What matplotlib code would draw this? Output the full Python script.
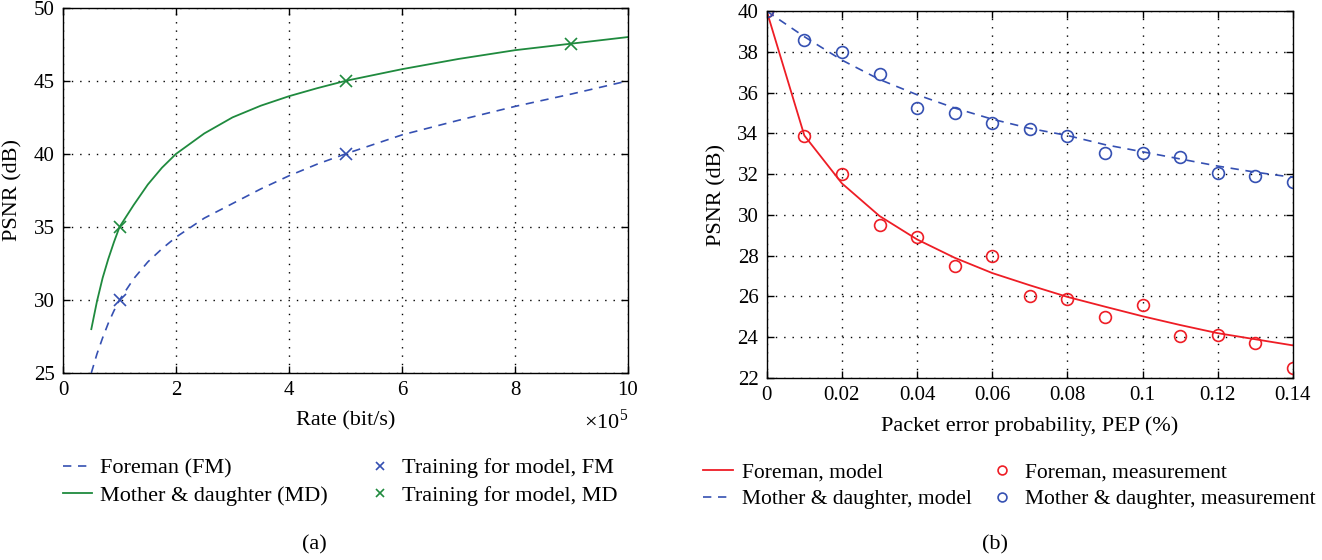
import matplotlib
matplotlib.use("Agg")
import matplotlib.pyplot as plt

plt.rcParams['font.family'] = ['Liberation Serif', 'DejaVu Serif']
plt.rcParams['mathtext.fontset'] = 'custom'
plt.rcParams['mathtext.rm'] = 'Liberation Serif'
plt.rcParams['font.size'] = 14

BLUE = '#3550b2'
GREEN = '#1f8a3e'
RED = '#ee1d25'

# (a) rate vs PSNR, rate in units of 1e5 bit/s
rate = [0.5, 0.6, 0.7, 0.8, 0.9, 1.0, 1.25, 1.5, 1.75, 2.0, 2.5, 3.0, 3.5,
        4.0, 4.5, 5.0, 6.0, 7.0, 8.0, 9.0, 10.0]
psnr_fm = [25.0, 26.3, 27.4, 28.4, 29.25, 30.0, 31.45, 32.6, 33.5, 34.3, 35.6,
           36.6, 37.6, 38.5, 39.3, 40.0, 41.3, 42.3, 43.25, 44.1, 45.0]
psnr_md = [28.0, 29.9, 31.5, 32.8, 33.95, 35.0, 36.5, 37.9, 39.05, 40.0, 41.4,
           42.5, 43.3, 43.95, 44.5, 45.0, 45.8, 46.5, 47.1, 47.55, 48.0]
train_rate_fm = [1.0, 5.0]
train_psnr_fm = [30.0, 40.0]
train_rate_md = [1.0, 5.0, 9.0]
train_psnr_md = [35.0, 45.0, 47.5]

# (b) packet error probability vs PSNR
pep = [0.0, 0.01, 0.02, 0.03, 0.04, 0.05, 0.06, 0.07, 0.08, 0.09, 0.10,
       0.11, 0.12, 0.13, 0.14]
fm_model = [40.0, 33.9, 31.55, 29.95, 28.8, 27.9, 27.15, 26.55, 25.98, 25.5,
            25.03, 24.6, 24.2, 23.9, 23.6]
fm_meas = [40.0, 33.9, 32.0, 29.5, 28.9, 27.5, 28.0, 26.0, 25.9, 25.0, 25.6,
           24.05, 24.1, 23.7, 22.5]
md_model = [40.0, 38.75, 37.6, 36.65, 35.9, 35.25, 34.7, 34.25, 33.9, 33.45,
            33.1, 32.75, 32.4, 32.1, 31.85]
md_meas = [40.0, 38.6, 38.0, 36.9, 35.25, 35.0, 34.5, 34.2, 33.9, 33.05,
           33.05, 32.85, 32.05, 31.9, 31.6]


def matlab_style(ax):
    ax.grid(True, color='black', linestyle=(0, (1, 5)), linewidth=1.0)
    ax.tick_params(direction='in', top=True, right=True, length=5, width=1,
                   labelsize=15, pad=6)
    for s in ax.spines.values():
        s.set_linewidth(1.0)


fig = plt.figure(figsize=(13.22, 5.6), dpi=100)
ax1 = fig.add_axes([0.0477, 0.334, 0.4273, 0.652])
ax2 = fig.add_axes([0.580, 0.325, 0.398, 0.655])

# left panel
ax1.plot(rate, psnr_fm, '--', color=BLUE, lw=1.2, dashes=(5, 4), label='Foreman (FM)')
ax1.plot(rate, psnr_md, '-', color=GREEN, lw=1.3, label='Mother & daughter (MD)')
ax1.plot(train_rate_fm, train_psnr_fm, 'x', color=BLUE, ms=8, mew=1.2,
         label='Training for model, FM')
ax1.plot(train_rate_md, train_psnr_md, 'x', color=GREEN, ms=8, mew=1.2,
         label='Training for model, MD')
ax1.set_xlim(0, 10)
ax1.set_ylim(25, 50)
ax1.set_xticks(range(0, 11, 2))
ax1.set_yticks(range(25, 51, 5))
ax1.set_xlabel('Rate (bit/s)', fontsize=16, labelpad=8)
ax1.set_ylabel('PSNR (dB)', fontsize=16, labelpad=8)
ax1.text(1.0, -0.10, r'×10$^5$', transform=ax1.transAxes, ha='right',
         va='top', fontsize=16)
matlab_style(ax1)
ax1.legend(loc='upper left', bbox_to_anchor=(0.0325, 0.218),
           bbox_transform=fig.transFigure, ncol=2, frameon=False,
           fontsize=16, handlelength=1.3, columnspacing=1.7,
           labelspacing=0.3, handletextpad=0.36, markerscale=0.8)

# right panel
ax2.plot(pep, fm_model, '-', color=RED, lw=1.3, label='Foreman, model')
ax2.plot(pep, md_model, '--', color=BLUE, lw=1.2, dashes=(5, 4),
         label='Mother & daughter, model')
ax2.plot(pep, fm_meas, 'o', mfc='none', mec=RED, ms=8.5, mew=1.2,
         label='Foreman, measurement')
ax2.plot(pep, md_meas, 'o', mfc='none', mec=BLUE, ms=8.5, mew=1.2,
         label='Mother & daughter, measurement')
ax2.set_xlim(0, 0.14)
ax2.set_ylim(22, 40)
ax2.set_xticks([0, 0.02, 0.04, 0.06, 0.08, 0.1, 0.12, 0.14])
ax2.set_xticklabels(['0', '0.02', '0.04', '0.06', '0.08', '0.1', '0.12', '0.14'])
ax2.set_yticks(range(22, 41, 2))
ax2.set_xlabel('Packet error probability, PEP (%)', fontsize=16, labelpad=8)
ax2.set_ylabel('PSNR (dB)', fontsize=16, labelpad=8)
matlab_style(ax2)
ax2.legend(loc='upper left', bbox_to_anchor=(0.517, 0.208),
           bbox_transform=fig.transFigure, ncol=2, frameon=False,
           fontsize=15.5, handlelength=1.4, columnspacing=0.7,
           labelspacing=0.3, handletextpad=0.4, markerscale=0.75)

fig.text(0.2375, 0.027, '(a)', ha='center', va='center', fontsize=16)
fig.text(0.7525, 0.027, '(b)', ha='center', va='center', fontsize=16)

fig.savefig('out.png', dpi=100)
